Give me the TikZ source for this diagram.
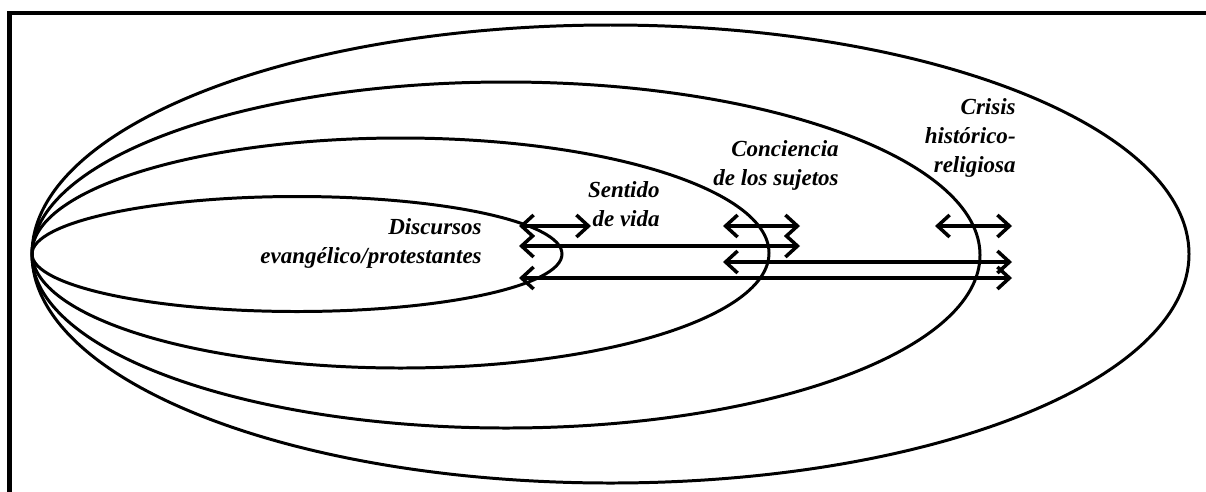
\documentclass[tikz,border=0pt]{standalone}
\usepackage{fontspec}
\setmainfont{Liberation Serif}
\usetikzlibrary{arrows.meta}
\tikzset{
  frameline/.style={line width=2.3pt, line cap=rect},
  ring/.style={line width=1.7pt},
  link/.style={line width=2pt, {Straight Barb[length=0.24cm,width=0.44cm]}-{Straight Barb[length=0.24cm,width=0.44cm]}},
  lbl/.style={font=\bfseries\itshape\fontsize{13.1pt}{16.3pt}\selectfont, align=right, inner sep=0pt, anchor=base east}
}
\begin{document}
\begin{tikzpicture}[x=0.02cm, y=-0.02cm]
\useasboundingbox (0,0) rectangle (1206,491);
% frame (top and left edges)
\draw[frameline] (9.5,495) -- (9.5,13) -- (1210,13);
% nested ellipses
\draw[ring] (297,254) ellipse [x radius=265, y radius=57.5];
\draw[ring] (400.5,253) ellipse [x radius=368.5, y radius=115];
\draw[ring] (506,255) ellipse [x radius=474, y radius=173];
\draw[ring] (610.5,254) ellipse [x radius=578.5, y radius=229];
% labels (anchor = baseline of last line)
\node[lbl] (disc) at (482,263) {Discursos\\evangélico/protestantes};
\node[lbl] (sent) at (660,226) {Sentido\\de vida};
\node[lbl] (conc) at (839,185) {Conciencia\\de los sujetos};
\node[lbl] (cris) at (1016,172) {Crisis\\histórico-\\religiosa};
% arrow end points
\coordinate (a1l) at (519,226); \coordinate (a1r) at (591,226);
\coordinate (b1l) at (723,226); \coordinate (b1r) at (800,226);
\coordinate (c1l) at (935,226); \coordinate (c1r) at (1012,226);
\coordinate (a2l) at (519,246); \coordinate (b2r) at (800,246);
\coordinate (b3l) at (723,262); \coordinate (c3r) at (1012,262);
\coordinate (a4l) at (519,278); \coordinate (c4r) at (1012,278);
% arrows
\draw[link] (a1l) -- (a1r);
\draw[link] (b1l) -- (b1r);
\draw[link] (c1l) -- (c1r);
\draw[link] (a2l) -- (b2r);
\draw[link] (b3l) -- (c3r);
\draw[link] (a4l) -- (c4r);
\end{tikzpicture}
\end{document}
